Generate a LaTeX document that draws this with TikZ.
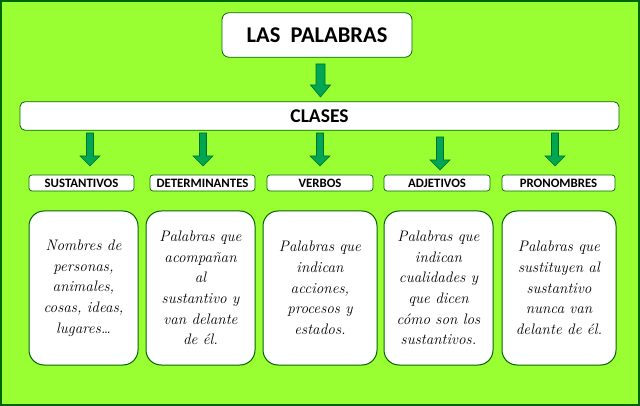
\documentclass[tikz,border=0pt]{standalone}
\usepackage{fontspec}
\newfontfamily\calib{Carlito}
\definecolor{bggreen}{RGB}{153,255,51}
\definecolor{dkgreen}{RGB}{0,100,0}
\definecolor{arrgreen}{RGB}{0,166,81}
\definecolor{arredge}{RGB}{0,110,50}
\newcommand{\garrow}[5]{%
  \filldraw[fill=arrgreen,draw=arredge,line width=0.6pt]
    ({#1-#4/2},#2) -- ({#1+#4/2},#2) -- ({#1+#4/2},{#3-#5}) -- ({#1+10},{#3-#5})
    -- (#1,#3) -- ({#1-10},{#3-#5}) -- ({#1-#4/2},{#3-#5}) -- cycle;}
\begin{document}
\begin{tikzpicture}[x=1pt,y=-1pt,
  titlebox/.style={draw=dkgreen,fill=white,line width=0.8pt,rounded corners=7pt,
     font=\calib\bfseries\fontsize{22.5}{26}\selectfont,inner sep=0pt},
  barbox/.style={draw=dkgreen,fill=white,line width=0.8pt,rounded corners=5pt,
     font=\calib\bfseries\fontsize{19.5}{22}\selectfont,inner sep=0pt},
  labbox/.style={draw=dkgreen,fill=white,line width=0.7pt,rounded corners=3pt,
     font=\calib\bfseries\fontsize{12.8}{14}\selectfont,inner sep=0pt,minimum height=16pt},
  descbox/.style={draw=dkgreen,fill=white,line width=1pt,rounded corners=15pt,
     font=\itshape\fontsize{15.2}{20.7}\selectfont,align=center,inner sep=0pt,minimum height=154pt}
]
\useasboundingbox (0,0) rectangle (640,406);
\fill[bggreen] (0,0) rectangle (640,406);
\draw[dkgreen,line width=2pt] (1,1) rectangle (638.5,405);

\node[titlebox,minimum width=190pt,minimum height=44.5pt] (title) at (317,35) {LAS\ \ PALABRAS};
\node[barbox,minimum width=599pt,minimum height=28.5pt] (clases) at (319.5,116) {CLASES};

\node[labbox,minimum width=105pt] (l1) at (81.5,183) {SUSTANTIVOS};
\node[labbox,minimum width=105pt] (l2) at (202.5,183) {DETERMINANTES};
\node[labbox,minimum width=106pt] (l3) at (320,183) {VERBOS};
\node[labbox,minimum width=106pt] (l4) at (437,183) {ADJETIVOS};
\node[labbox,minimum width=113pt] (l5) at (558.5,183) {PRONOMBRES};

\node[descbox,minimum width=109pt] (d1) at (83.5,288) {Nombres de\\personas,\\animales,\\cosas, ideas,\\lugares\dots};
\node[descbox,minimum width=109pt] (d2) at (200.5,288) {Palabras que\\acompañan\\al\\sustantivo y\\van delante\\de él.};
\node[descbox,minimum width=114pt] (d3) at (320,288) {Palabras que\\indican\\acciones,\\procesos y\\estados.};
\node[descbox,minimum width=109pt] (d4) at (438.5,288) {Palabras que\\indican\\cualidades y\\que dicen\\cómo son los\\sustantivos.};
\node[descbox,minimum width=114pt] (d5) at (559,288) {Palabras que\\sustituyen al\\sustantivo\\nunca van\\delante de él.};

\garrow{320.5}{64}{97}{9}{12}
\garrow{90}{133}{166}{7}{10}
\garrow{203}{133}{166}{7}{10}
\garrow{320}{133}{166}{7}{10}
\garrow{440}{137}{170}{7}{10}
\garrow{555}{133}{166}{7}{10}
\end{tikzpicture}
\end{document}
